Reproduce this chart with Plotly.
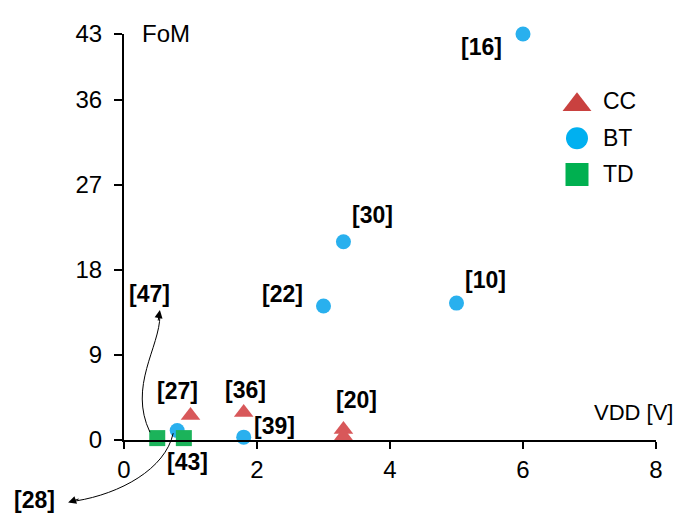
import plotly.graph_objects as go

# ---------------- data ----------------
cc_vdd = [1.0, 1.8, 3.3, 3.3]
cc_fom = [2.6, 2.9, 1.1, 0.4]

bt_vdd = [6.0, 3.3, 3.0, 5.0, 1.8, 0.8]
bt_fom = [43.0, 21.0, 14.2, 14.5, 0.3, 1.0]

td_vdd = [0.5, 0.9]
td_fom = [0.2, 0.2]

x_ticks = [0, 2, 4, 6, 8]
y_ticks = [0, 9, 18, 27, 36, 43]

ref_labels = ["[16]", "[30]", "[22]", "[10]", "[47]", "[27]", "[36]", "[39]", "[43]", "[20]", "[28]"]
# label anchor positions in data units (VDD, FoM)
label_x = [5.38, 3.73, 2.39, 5.44, 0.39, 0.81, 1.82, 2.27, 0.96, 3.50, -1.35]
label_y = [41.6, 23.8, 15.5, 16.9, 15.5, 5.2, 5.3, 1.5, -2.3, 4.2, -6.4]

legend_names = ["CC", "BT", "TD"]

X_RANGE = [0, 8]
Y_RANGE = [0, 43]


def px(x):
    return (x - X_RANGE[0]) / (X_RANGE[1] - X_RANGE[0])


def py(y):
    return (y - Y_RANGE[0]) / (Y_RANGE[1] - Y_RANGE[0])


FONT = "Liberation Sans, Arial, sans-serif"
RED, RED_L = "#C9413F", "#D8585A"
BLUE, BLUE_L = "#00B0F0", "#29B0EE"
GREEN, GREEN_L = "#00B050", "#1BB35A"

fig = go.Figure()

fig.add_trace(go.Scatter(x=cc_vdd, y=cc_fom, mode="markers", name="CC",
                         marker=dict(symbol="triangle-up", size=17, color=RED_L,
                                     line=dict(width=0)),
                         cliponaxis=False, showlegend=False))
fig.add_trace(go.Scatter(x=bt_vdd, y=bt_fom, mode="markers", name="BT",
                         marker=dict(symbol="circle", size=15, color=BLUE_L,
                                     line=dict(width=0)),
                         cliponaxis=False, showlegend=False))
fig.add_trace(go.Scatter(x=td_vdd, y=td_fom, mode="markers", name="TD",
                         marker=dict(symbol="square", size=16, color=GREEN_L,
                                     line=dict(width=0)),
                         cliponaxis=False, showlegend=False))

# manual legend on an overlay axis (0..1 on the plot area)
leg_x = 0.8515
leg_y = [0.826, 0.743, 0.654]
leg_sym = ["triangle-up", "circle", "square"]
leg_size = [25, 22, 23]
leg_col = [RED, BLUE, GREEN]
for name, yy, s, sz, c in zip(legend_names, leg_y, leg_sym, leg_size, leg_col):
    fig.add_trace(go.Scatter(x=[leg_x], y=[yy], xaxis="x2", yaxis="y2", mode="markers",
                             marker=dict(symbol=s, size=sz, color=c, line=dict(width=0)),
                             cliponaxis=False, showlegend=False, hoverinfo="skip"))

annotations = []
for name, yy in zip(legend_names, [0.834, 0.743, 0.654]):
    annotations.append(dict(x=0.896, y=yy, xref="paper", yref="paper", text=name,
                            showarrow=False, xanchor="left", yanchor="middle",
                            font=dict(family=FONT, size=23, color="black")))

for t, lx, ly in zip(ref_labels, label_x, label_y):
    annotations.append(dict(x=px(lx), y=py(ly), xref="paper", yref="paper",
                            text="<b>%s</b>" % t, showarrow=False,
                            xanchor="center", yanchor="middle",
                            font=dict(family=FONT, size=23, color="black")))

# axis titles
annotations.append(dict(x=0.030, y=1.002, xref="paper", yref="paper", text="FoM",
                        showarrow=False, xanchor="left", yanchor="middle",
                        font=dict(family=FONT, size=24, color="black")))
annotations.append(dict(x=1.036, y=0.067, xref="paper", yref="paper", text="VDD [V]",
                        showarrow=False, xanchor="right", yanchor="middle",
                        font=dict(family=FONT, size=22, color="black")))

# curved arrows (control points in data units -> paper)
curve47 = [(0.39, 0.83), (0.06, 5.69), (0.54, 9.83), (0.54, 13.2)]
curve28 = [(0.74, 0.72), (0.62, -3.10), (-0.06, -5.69), (-0.72, -6.45)]


def path_of(pts):
    p = [(px(a), py(b)) for a, b in pts]
    return "M %f,%f C %f,%f %f,%f %f,%f" % (p[0] + p[1] + p[2] + p[3])


shapes = [
    dict(type="path", xref="paper", yref="paper", path=path_of(curve47),
         line=dict(color="black", width=1)),
    dict(type="path", xref="paper", yref="paper", path=path_of(curve28),
         line=dict(color="black", width=1)),
]

# arrow heads
annotations.append(dict(x=px(0.54), y=py(13.76), xref="paper", yref="paper", text="",
                        showarrow=True, arrowhead=2, arrowsize=1.6, arrowwidth=1,
                        arrowcolor="black", ax=-2, ay=12, standoff=0))
annotations.append(dict(x=px(-0.84), y=py(-6.62), xref="paper", yref="paper", text="",
                        showarrow=True, arrowhead=2, arrowsize=1.6, arrowwidth=1,
                        arrowcolor="black", ax=12, ay=-4, standoff=0))

# page body adds an 8px offset, so the figure is 8px smaller
fig.update_layout(
    width=673, height=510,
    margin=dict(l=116, r=25, t=16, b=78),
    paper_bgcolor="white", plot_bgcolor="white",
    showlegend=False,
    font=dict(family=FONT, size=24, color="black"),
    xaxis=dict(range=X_RANGE, tickvals=x_ticks, ticktext=[str(v) for v in x_ticks],
               showgrid=False, zeroline=False, showline=True, linecolor="black",
               linewidth=2, ticks="outside", ticklen=7, tickwidth=2, tickcolor="black",
               tickfont=dict(family=FONT, size=24, color="black")),
    yaxis=dict(range=Y_RANGE, tickvals=y_ticks, ticktext=[str(v) for v in y_ticks],
               showgrid=False, zeroline=False, showline=True, linecolor="black",
               linewidth=2, ticks="outside", ticklen=8, tickwidth=2, tickcolor="black",
               ticklabelstandoff=7,
               tickfont=dict(family=FONT, size=24, color="black")),
    xaxis2=dict(range=[0, 1], overlaying="x", visible=False, anchor="y2"),
    yaxis2=dict(range=[0, 1], overlaying="y", visible=False, anchor="x2"),
    annotations=annotations,
    shapes=shapes,
)

fig.write_html("out.html")
